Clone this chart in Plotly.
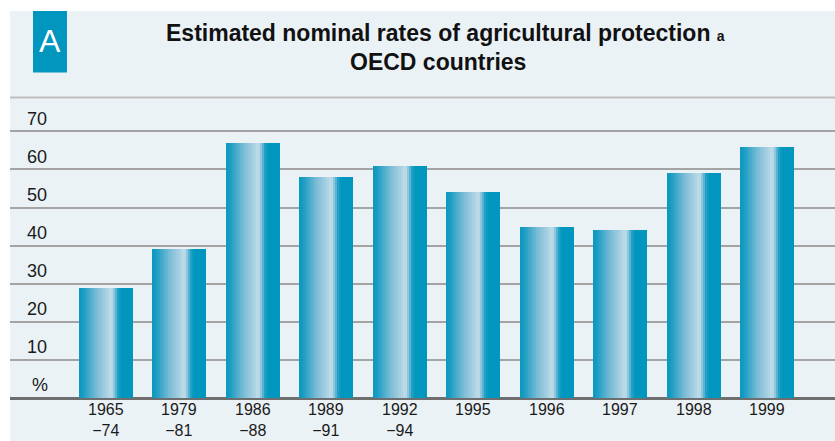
import plotly.graph_objects as go

categories = ["1965<br>\u221274", "1979<br>\u221281", "1986<br>\u221288", "1989<br>\u221291",
              "1992<br>\u221294", "1995", "1996", "1997", "1998", "1999"]
values = [29, 39, 67, 58, 61, 54, 45, 44, 59, 66]
y_ticks = [10, 20, 30, 40, 50, 60, 70]
y_tick_labels = ["10", "20", "30", "40", "50", "60", "70"]

W, H = 835, 441
ML, MR, MT, MB = 10, 0, 100, 43
PW, PH = W - ML - MR, H - MT - MB
YMAX = PH / 3.81
px_per_cat = 73.44
first_center = 106
XMIN = (ML - first_center) / px_per_cat
XMAX = (W - MR - first_center) / px_per_cat

PANEL = "#ebf2f6"
TEAL = "#0096be"
FONT = "Liberation Sans Narrow, Liberation Sans, Arial, sans-serif"

def hex2rgb(h):
    h = h.lstrip("#")
    return tuple(int(h[i:i + 2], 16) for i in (0, 2, 4))

stops = [(0.0, "#0a98bf"), (0.08, "#1a9dc3"), (0.2, "#4aaccc"), (0.35, "#82bfd7"),
         (0.55, "#b2d5e5"), (0.6, "#c2dfeb"), (0.65, "#8cc5dc"), (0.72, "#22a1c6"),
         (0.78, "#0096be"), (1.0, "#0096be")]

def grad(t):
    for (t0, c0), (t1, c1) in zip(stops[:-1], stops[1:]):
        if t0 <= t <= t1:
            a = (t - t0) / (t1 - t0) if t1 > t0 else 0
            r0, g0, b0 = hex2rgb(c0)
            r1, g1, b1 = hex2rgb(c1)
            return "rgb(%d,%d,%d)" % (round(r0 + a * (r1 - r0)), round(g0 + a * (g1 - g0)), round(b0 + a * (b1 - b0)))
    return stops[-1][1]

fig = go.Figure()
bar_w = 54 / px_per_cat
n_strips = 27
step = bar_w / n_strips
xs = list(range(len(values)))
for k in range(n_strips):
    off = -bar_w / 2 + k * step
    w = min(step * 1.4, bar_w / 2 - off)
    fig.add_trace(go.Bar(
        x=xs, y=values, width=[w] * len(xs), offset=[off] * len(xs),
        marker=dict(color=grad((k + 0.5) / n_strips), line=dict(width=0)),
        showlegend=False, hoverinfo="skip"))

annotations = []
# y tick labels
for v, lab in zip(y_ticks, y_tick_labels):
    annotations.append(dict(x=(25 - ML) / PW, xref="paper", y=v + 3.3, yref="y", text=lab,
                            showarrow=False, xanchor="left", yanchor="middle",
                            font=dict(family=FONT, size=18, color="#1a1a1a")))
annotations.append(dict(x=(30 - ML) / PW, xref="paper", y=3.4, yref="y", text="%",
                        showarrow=False, xanchor="left", yanchor="middle",
                        font=dict(family=FONT, size=18, color="#1a1a1a")))
# x category labels
LBL = 16
for i, c in enumerate(categories):
    top_px = 399.5
    annotations.append(dict(x=i, xref="x", y=(H - MB - top_px) / PH, yref="paper", text=c,
                            showarrow=False, xanchor="center", yanchor="top",
                            borderpad=0,
                            font=dict(family=FONT, size=LBL, color="#1a1a1a")))
# title
annotations.append(dict(x=(446 - ML) / PW, xref="paper", y=(H - MB - 33) / PH, yref="paper",
                        text="<b>Estimated nominal rates of agricultural protection</b> <span style='font-size:14px'><b>a</b></span>",
                        showarrow=False, xanchor="center", yanchor="middle",
                        font=dict(family=FONT, size=23, color="#111111")))
annotations.append(dict(x=(438 - ML) / PW, xref="paper", y=(H - MB - 62) / PH, yref="paper",
                        text="<b>OECD countries</b>",
                        showarrow=False, xanchor="center", yanchor="middle",
                        font=dict(family=FONT, size=23, color="#111111")))
# "A" label
annotations.append(dict(x=(50 - ML) / PW, xref="paper", y=(H - MB - 41) / PH, yref="paper",
                        text="A", showarrow=False, xanchor="center", yanchor="middle",
                        font=dict(family="Liberation Sans, Arial, sans-serif", size=32, color="white")))

def px_x(x):
    return (x - ML) / PW

def px_y(y):
    return (H - MB - y) / PH

shapes = [
    # white margins
    dict(type="rect", xref="paper", yref="paper", x0=px_x(0), x1=px_x(W), y0=px_y(0), y1=px_y(11),
         fillcolor="white", line=dict(width=0), layer="above"),
    dict(type="rect", xref="paper", yref="paper", x0=px_x(0), x1=px_x(10), y0=px_y(0), y1=px_y(H),
         fillcolor="white", line=dict(width=0), layer="above"),
    # header separator
    dict(type="line", xref="paper", yref="paper", x0=px_x(10), x1=px_x(W), y0=px_y(97.5), y1=px_y(97.5),
         line=dict(color="#bdbdbd", width=2)),
    # A box
    dict(type="rect", xref="paper", yref="paper", x0=px_x(33), x1=px_x(67), y0=px_y(11), y1=px_y(72.5),
         fillcolor=TEAL, line=dict(width=0), layer="below"),
]

fig.update_layout(
    width=W, height=H,
    margin=dict(l=ML, r=MR, t=MT, b=MB, pad=0),
    paper_bgcolor=PANEL, plot_bgcolor=PANEL,
    barmode="overlay", bargap=0,
    xaxis=dict(range=[XMIN, XMAX], showgrid=False, zeroline=False, showticklabels=False,
               showline=False, ticks="", fixedrange=True),
    yaxis=dict(range=[0, YMAX], tickvals=[0] + y_ticks, showticklabels=False, ticks="",
               showgrid=True, gridcolor="#a4a4a4", gridwidth=2,
               zeroline=True, zerolinecolor="#6e6e6e", zerolinewidth=2.5,
               showline=False, fixedrange=True),
    annotations=annotations, shapes=shapes,
    showlegend=False,
)

fig.write_html("out.html")
